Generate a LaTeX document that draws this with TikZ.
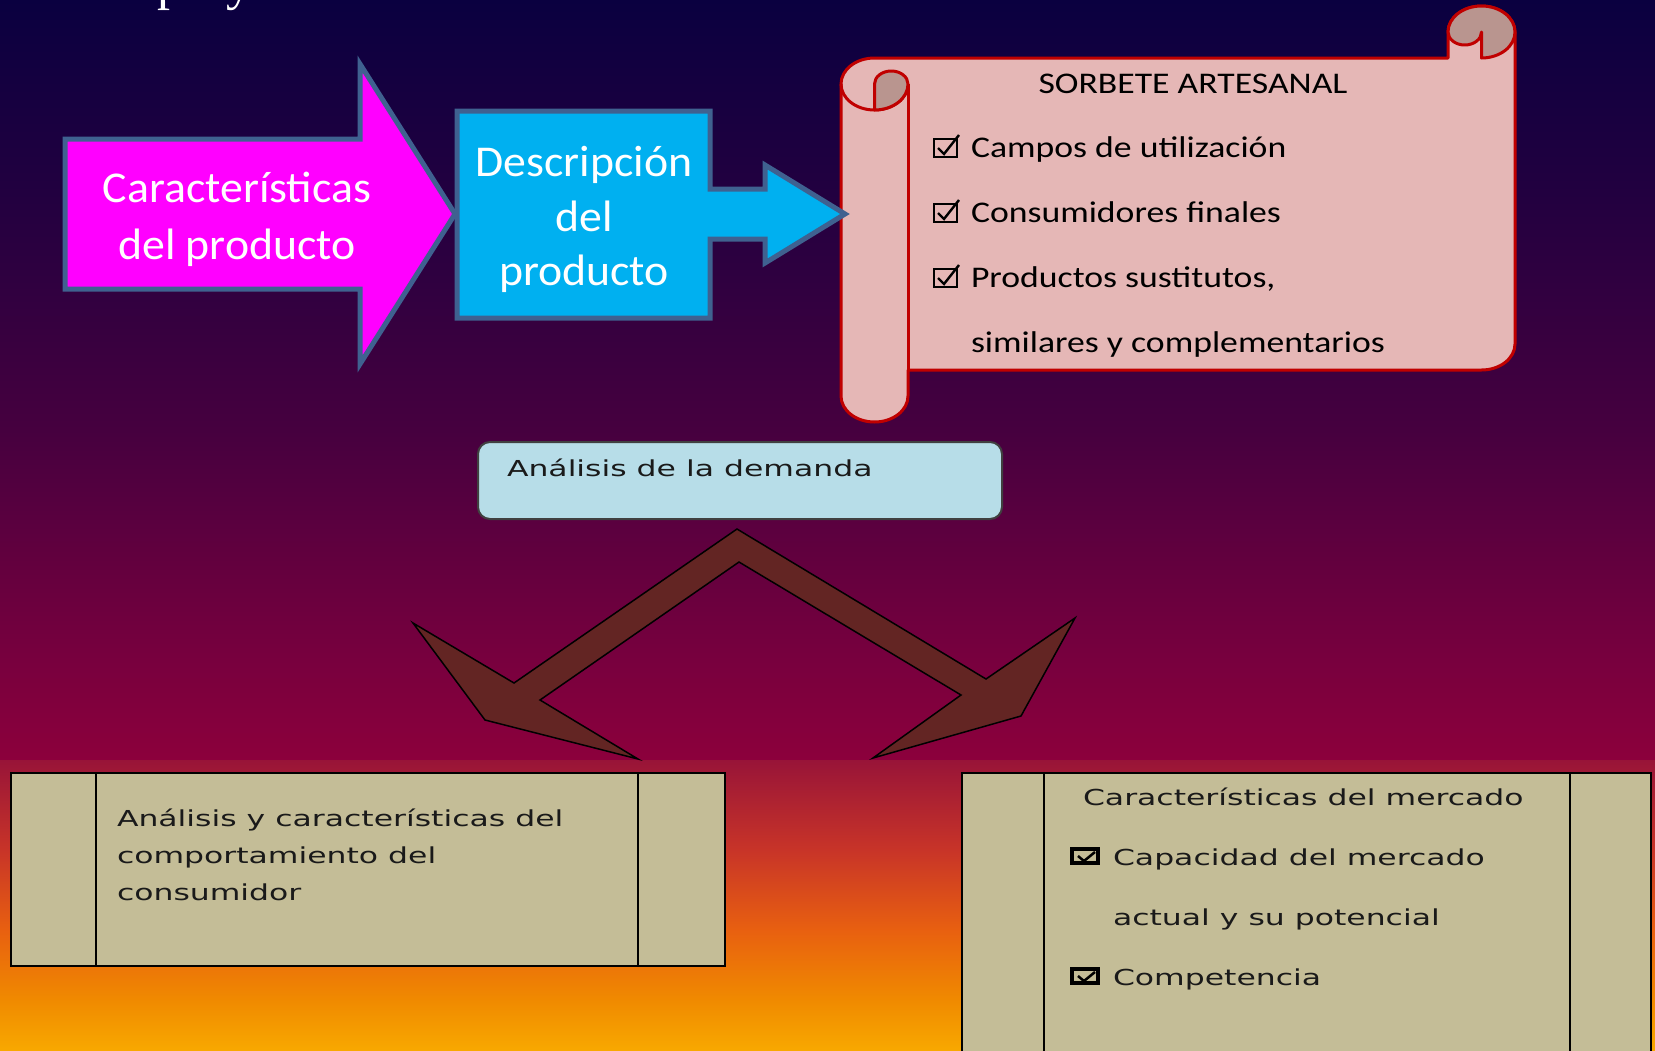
\documentclass[tikz,border=0pt]{standalone}
\usepackage{fontspec}
\setmainfont{Carlito}
\newfontfamily\calfont[FakeStretch=1.04]{Carlito}
\newfontfamily\scrollfont[FakeStretch=1.19]{Carlito}
\newfontfamily\verfont[FakeStretch=1.43]{DejaVu Sans}
\newfontfamily\titlefont{Liberation Serif}

% background colours
\definecolor{skyA}{RGB}{10,0,64}
\definecolor{skyB}{RGB}{35,0,64}
\definecolor{skyC}{RGB}{70,0,63}
\definecolor{skyD}{RGB}{118,0,62}
\definecolor{skyE}{RGB}{140,0,60}
\definecolor{gA}{RGB}{152,20,56}
\definecolor{gB}{RGB}{200,52,40}
\definecolor{gC}{RGB}{232,96,16}
\definecolor{gD}{RGB}{240,138,0}
\definecolor{gE}{RGB}{248,168,0}
% shape colours
\definecolor{magentaF}{HTML}{FF00FF}
\definecolor{cyanF}{HTML}{00B0F0}
\definecolor{arrowline}{HTML}{3F6190}
\definecolor{scrollF}{HTML}{E5B7B6}
\definecolor{scrollDark}{HTML}{B9958F}
\definecolor{scrollred}{HTML}{C00000}
\definecolor{demandF}{HTML}{B7DDE8}
\definecolor{tanF}{HTML}{C4BD97}
\definecolor{brownF}{HTML}{632523}
\definecolor{inkA}{HTML}{1A1A1A}

\pgfdeclareverticalshading{skyshade}{100bp}{color(0bp)=(skyE); color(25bp)=(skyE); color(32.24bp)=(skyD); color(46.71bp)=(skyC); color(61.84bp)=(skyB); color(75bp)=(skyA); color(100bp)=(skyA)}
\pgfdeclareverticalshading{groundshade}{100bp}{color(0bp)=(gE); color(25bp)=(gE); color(33.62bp)=(gD); color(45.69bp)=(gC); color(59.48bp)=(gB); color(75bp)=(gA); color(100bp)=(gA)}

\tikzset{
  blockarrow/.style={draw=arrowline, line width=5pt, line join=miter},
  scrollline/.style={draw=scrollred, line width=3pt, line join=round},
  tanbox/.style={fill=tanF, draw=black, line width=2pt},
  lbl/.style={inner sep=0pt, outer sep=0pt},
  bigwhite/.style={lbl, anchor=base, text=white, font=\calfont\fontsize{44}{53}\selectfont},
  scrolltext/.style={lbl, text=black, font=\scrollfont\fontsize{30}{36}\selectfont},
  boxtext/.style={lbl, anchor=base west, text=inkA, font=\verfont\fontsize{22}{30}\selectfont},
  checkthin/.pic={
    \draw[line width=2.2pt] (0,0) rectangle (23,18);
    \draw[line width=2.4pt, line join=miter] (4,9) -- (10,15) -- (25,-4);
  },
  checkbold/.pic={
    \draw[line width=4pt] (0,0) rectangle (26,14);
    \draw[line width=2.5pt, line join=miter] (6,7) -- (12,12) -- (23,3);
  }
}

\begin{document}
\begin{tikzpicture}[x=1pt,y=-1pt]
\useasboundingbox (0,0) rectangle (1655,1050);
\clip (0,0) rectangle (1655,1050);

% background
\shade[shading=skyshade] (0,0) rectangle (1655,760);
\shade[shading=groundshade] (0,760) rectangle (1655,1050);

% heading line above the picture (only its descenders show)
\node[lbl, anchor=base west, text=white, font=\titlefont\fontsize{52}{60}\selectfont] (heading) at (157,-1) {proyecto};

% ---------- scroll ----------
\path[scrollline, fill=scrollF]
  (841,84) arc[start angle=180, end angle=270, x radius=33.5, y radius=26]
  -- (1448,58) -- (1448,32)
  arc[start angle=180, end angle=360, x radius=33.5, y radius=26]
  -- (1515,344)
  arc[start angle=0, end angle=90, x radius=33.5, y radius=26]
  -- (908,370) -- (908,396)
  arc[start angle=0, end angle=180, x radius=33.5, y radius=26]
  -- cycle;
% left roll: lower rim of its top end and its right edge
\draw[scrollline] (841,84) arc[start angle=180, end angle=0, x radius=33.5, y radius=26];
\draw[scrollline] (908,84) -- (908,370);
% left curl
\path[scrollline, fill=scrollDark]
  (874.5,110) -- (874.5,84)
  arc[start angle=180, end angle=360, x radius=16.75, y radius=13]
  arc[start angle=0, end angle=90, x radius=33.5, y radius=26]
  -- cycle;
% right curl
\path[scrollline, fill=scrollDark]
  (1448,32) arc[start angle=180, end angle=360, x radius=33.5, y radius=26]
  arc[start angle=0, end angle=90, x radius=33.5, y radius=26]
  -- (1481.5,32)
  arc[start angle=0, end angle=180, x radius=16.75, y radius=13]
  -- cycle;

\node[scrolltext, anchor=base] (sorbete) at (1193,93) {SORBETE ARTESANAL};
\pic at (934,139) {checkthin};
\node[scrolltext, anchor=base west] (campos) at (971,157) {Campos de utilización};
\pic at (934,204) {checkthin};
\node[scrolltext, anchor=base west] (consum) at (971,222) {Consumidores finales};
\pic at (934,269) {checkthin};
\node[scrolltext, anchor=base west] (prodA) at (971,287) {Productos sustitutos,};
\node[scrolltext, anchor=base west] (prodB) at (971,352) {similares y complementarios};

% ---------- block arrows ----------
\path[blockarrow, fill=magentaF]
  (65,139) -- (360,139) -- (360,64) -- (455,214) -- (360,364) -- (360,289) -- (65,289) -- cycle;
\node[bigwhite] (caracA) at (237,202) {Características};
\node[bigwhite] (caracB) at (237,259) {del producto};

\path[blockarrow, fill=cyanF]
  (457,111) -- (710,111) -- (710,189) -- (765,189) -- (765,165) -- (845,214)
  -- (765,263) -- (765,239) -- (710,239) -- (710,318) -- (457,318) -- cycle;
\node[bigwhite] (descA) at (584,176) {Descripción};
\node[bigwhite] (descB) at (584,231) {del};
\node[bigwhite] (descC) at (584,285) {producto};

% ---------- demand box ----------
\path[fill=demandF, draw=black!75, line width=2pt, rounded corners=12pt]
  (478,442) rectangle (1002,519);
\node[boxtext] (demanda) at (507,476) {Análisis de la demanda};

% ---------- split arrow ----------
\path[fill=brownF, draw=black, line width=1.5pt, line join=miter]
  (737,529) -- (986,679) -- (1075,618) -- (1021,716) -- (873,758) -- (961,695)
  -- (739,562) -- (540,700) -- (638,759) -- (485,720) -- (413,623) -- (514,683) -- cycle;

% ---------- lower boxes ----------
\path[tanbox] (11,773) rectangle (725,966);
\draw[line width=2pt] (96,773) -- (96,966);
\draw[line width=2pt] (638,773) -- (638,966);
\node[boxtext] (consA) at (117,826) {Análisis y características del};
\node[boxtext] (consB) at (117,863) {comportamiento del};
\node[boxtext] (consC) at (117,900) {consumidor};

\path[tanbox] (962,773) rectangle (1651,1062);
\draw[line width=2pt] (1044,773) -- (1044,1062);
\draw[line width=2pt] (1570,773) -- (1570,1062);
\node[boxtext] (mercado) at (1083,805) {Características del mercado};
\pic at (1072,849) {checkbold};
\node[boxtext] (capA) at (1113,865) {Capacidad del mercado};
\node[boxtext] (capB) at (1113,925) {actual y su potencial};
\pic at (1072,969) {checkbold};
\node[boxtext] (compet) at (1113,985) {Competencia};
\end{tikzpicture}
\end{document}
